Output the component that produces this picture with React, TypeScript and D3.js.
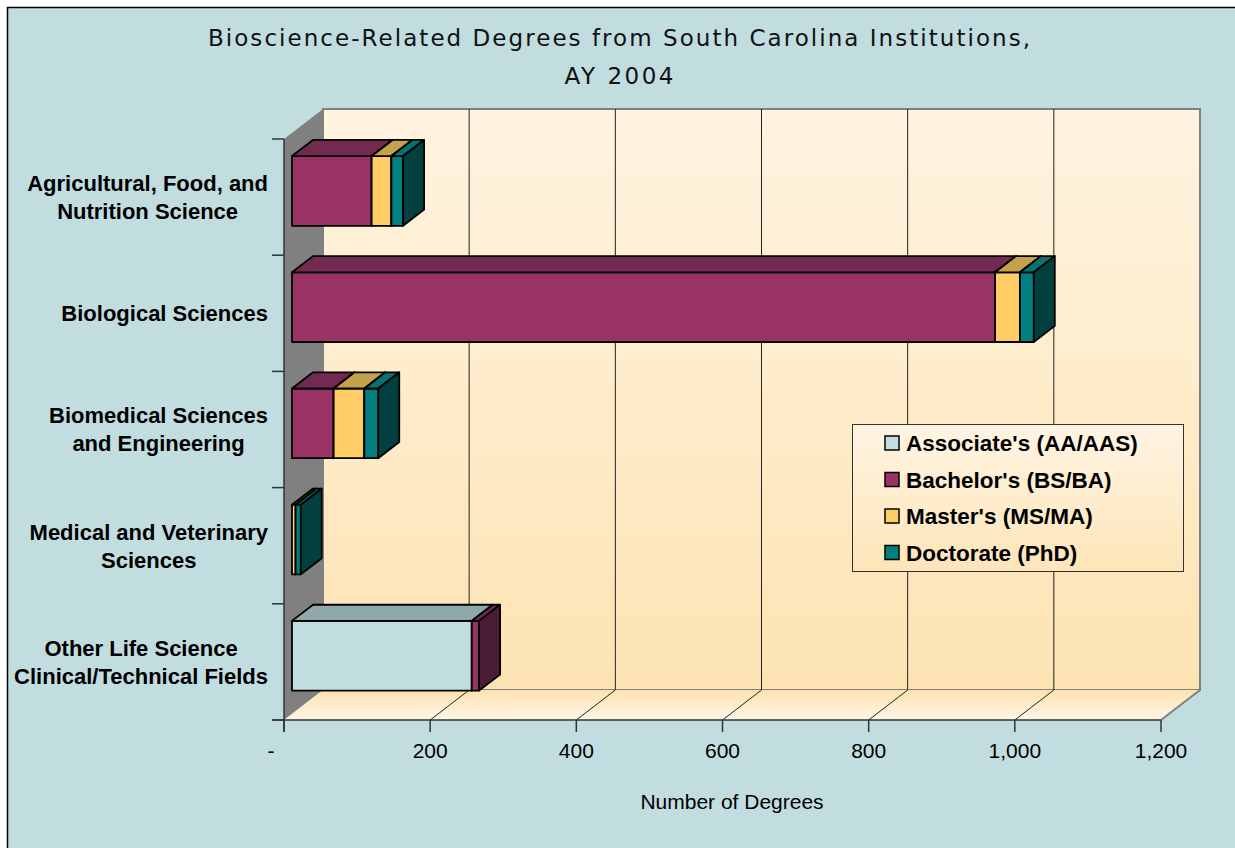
import React from "react";
import * as d3 from "d3";

const categories = [
  "Agricultural, Food, and\nNutrition Science",
  "Biological Sciences",
  "Biomedical Sciences\nand Engineering",
  "Medical and Veterinary\nSciences",
  "Other Life Science\nClinical/Technical Fields",
];
const seriesNames = ["Associate's (AA/AAS)", "Bachelor's (BS/BA)", "Master's (MS/MA)", "Doctorate (PhD)"];
const associate = [0, 0, 0, 0, 246];
const bachelor = [109, 962, 57, 0, 10];
const master = [27, 34, 42, 5, 0];
const doctorate = [16, 19, 19, 7, 0];
const xTicks = [0, 200, 400, 600, 800, 1000, 1200];
const titleLines = ["Bioscience-Related Degrees from South Carolina Institutions,", "AY 2004"];
const xAxisTitle = "Number of Degrees";

const seriesValues = [associate, bachelor, master, doctorate];
const faceColors = [
  { front: "#c2dde0", top: "#8fa8aa", side: "#5c7072" },
  { front: "#993366", top: "#732a50", side: "#4a1c36" },
  { front: "#ffcc66", top: "#c4a24c", side: "#8a6d2a" },
  { front: "#008080", top: "#087272", side: "#023f3f" },
];

const LABEL_FONT = "bold 22px 'Liberation Sans', Arial, sans-serif";
let ctx: CanvasRenderingContext2D | null = null;
function measure(text: string, font: string) {
  if (!ctx) ctx = document.createElement("canvas").getContext("2d");
  if (!ctx) return text.length * 11;
  ctx.font = font;
  return ctx.measureText(text).width;
}

export default function App() {
  const X0 = 284, X1 = 1161, YT = 139, YB = 720, DX = 39, DY = 30;
  const f0 = 8 / 39, f1 = 29 / 39;
  const x = d3.scaleLinear().domain([0, 1200]).range([X0, X1]);
  const y = d3.scaleBand<string>().domain(categories).range([YT, YB]).paddingInner(0.4).paddingOuter(0.2);
  const yStep = (YB - YT) / categories.length;
  const P = (px: number, py: number, f: number) => `${px + f * DX},${py - f * DY}`;

  const bars: React.ReactNode[] = [];
  categories.forEach((c, ci) => {
    let cum = 0;
    const yt = y(c)!;
    const yb = yt + y.bandwidth();
    seriesValues.forEach((vals, si) => {
      const v = vals[ci];
      if (!v) return;
      const a = x(cum), b = x(cum + v);
      cum += v;
      const col = faceColors[si];
      const common = { stroke: "#000", strokeWidth: 1.8, strokeLinejoin: "round" as const };
      bars.push(
        <g key={`${ci}-${si}`}>
          <polygon points={[P(a, yt, f0), P(b, yt, f0), P(b, yb, f0), P(a, yb, f0)].join(" ")} fill={col.front} {...common} />
          <polygon points={[P(a, yt, f0), P(b, yt, f0), P(b, yt, f1), P(a, yt, f1)].join(" ")} fill={col.top} {...common} />
          <polygon points={[P(b, yt, f0), P(b, yt, f1), P(b, yb, f1), P(b, yb, f0)].join(" ")} fill={col.side} {...common} />
        </g>
      );
    });
  });

  const fmt = d3.format(",");

  return (
    <svg width={1235} height={848} style={{ position: "absolute", left: 0, top: 0, background: "#fff" }}>
      <defs>
        <linearGradient id="wall" x1="0" y1="0" x2="0" y2="1">
          <stop offset="0" stopColor="#fff4e1" />
          <stop offset="1" stopColor="#fde3b3" />
        </linearGradient>
        <linearGradient id="floor" x1="0" y1="0" x2="0" y2="1">
          <stop offset="0" stopColor="#fde2b0" />
          <stop offset="1" stopColor="#fff6e6" />
        </linearGradient>
        <linearGradient id="legend" x1="0" y1="0" x2="0" y2="1">
          <stop offset="0" stopColor="#fff4e3" />
          <stop offset="1" stopColor="#fde5b8" />
        </linearGradient>
      </defs>
      <rect x={7.5} y={7.5} width={1240} height={850} fill="#c2dde0" stroke="#000" strokeWidth={1.5} />

      {titleLines.map((t, i) => (
        <text key={i} x={619} y={i === 0 ? 46 : 84} textAnchor="middle" fontFamily="'DejaVu Sans', Verdana, sans-serif"
          fontSize={23} fill="#111" textLength={i === 0 ? 822 : 109} lengthAdjust="spacing">
          {t}
        </text>
      ))}

      {/* back wall */}
      <rect x={X0 + DX} y={YT - DY} width={X1 - X0} height={YB - YT} fill="url(#wall)" stroke="#808080" strokeWidth={2} />
      {/* left wall */}
      <polygon points={`${X0},${YT} ${X0 + DX},${YT - DY} ${X0 + DX},${YB - DY} ${X0},${YB}`} fill="#808080" />
      {/* floor */}
      <polygon points={`${X0},${YB} ${X0 + DX},${YB - DY} ${X1 + DX},${YB - DY} ${X1},${YB}`} fill="url(#floor)" />
      <line x1={X1} y1={YB} x2={X1 + DX} y2={YB - DY} stroke="#808080" strokeWidth={2} />

      {/* gridlines */}
      {xTicks.slice(1, -1).map((t) => (
        <g key={t}>
          <line x1={x(t) + DX} y1={YT - DY} x2={x(t) + DX} y2={YB - DY} stroke="#222" strokeWidth={1} />
          <line x1={x(t)} y1={YB} x2={x(t) + DX} y2={YB - DY} stroke="#222" strokeWidth={1} />
        </g>
      ))}

      {/* axes */}
      <line x1={X0} y1={YT} x2={X0} y2={YB + 12} stroke="#333" strokeWidth={1.5} />
      <line x1={X0 - 12} y1={YB} x2={X1} y2={YB} stroke="#333" strokeWidth={1.5} />
      {d3.range(categories.length + 1).map((i) => (
        <line key={i} x1={X0 - 12} y1={YT + i * yStep} x2={X0} y2={YT + i * yStep} stroke="#333" strokeWidth={1.5} />
      ))}
      {xTicks.map((t) => (
        <g key={t}>
          <line x1={x(t)} y1={YB} x2={x(t)} y2={YB + 12} stroke="#333" strokeWidth={1.5} />
          <text x={t === 0 ? x(t) - 13 : x(t)} y={758} textAnchor="middle" fontFamily="'Liberation Sans', Arial, sans-serif" fontSize={21} fill="#000">
            {t === 0 ? "-" : fmt(t)}
          </text>
        </g>
      ))}
      <text x={732} y={809} textAnchor="middle" fontFamily="'Liberation Sans', Arial, sans-serif" fontSize={21} fill="#000">
        {xAxisTitle}
      </text>

      {/* category labels */}
      {categories.map((c, ci) => {
        const lines = c.split("\n");
        const w = Math.max(...lines.map((l) => measure(l, LABEL_FONT)));
        const cx = 268 - w / 2;
        const cy = YT + (ci + 0.5) * yStep;
        return lines.map((l, li) => (
          <text key={`${ci}-${li}`} x={cx} y={cy + (li - (lines.length - 1) / 2) * 28} dy="0.36em" textAnchor="middle"
            fontFamily="'Liberation Sans', Arial, sans-serif" fontWeight="bold" fontSize={22} fill="#000">
            {l}
          </text>
        ));
      })}

      {bars}

      {/* legend */}
      <rect x={852.5} y={424.5} width={331} height={147} fill="url(#legend)" stroke="#333" strokeWidth={1} />
      {seriesNames.map((n, i) => {
        const cy = 443 + i * 36.5;
        return (
          <g key={n}>
            <rect x={885} y={cy - 7} width={14} height={14} fill={faceColors[i].front} stroke="#000" strokeWidth={1.5} />
            <text x={906} y={cy} dy="0.36em" fontFamily="'Liberation Sans', Arial, sans-serif" fontWeight="bold" fontSize={22.5} fill="#000">
              {n}
            </text>
          </g>
        );
      })}
    </svg>
  );
}
